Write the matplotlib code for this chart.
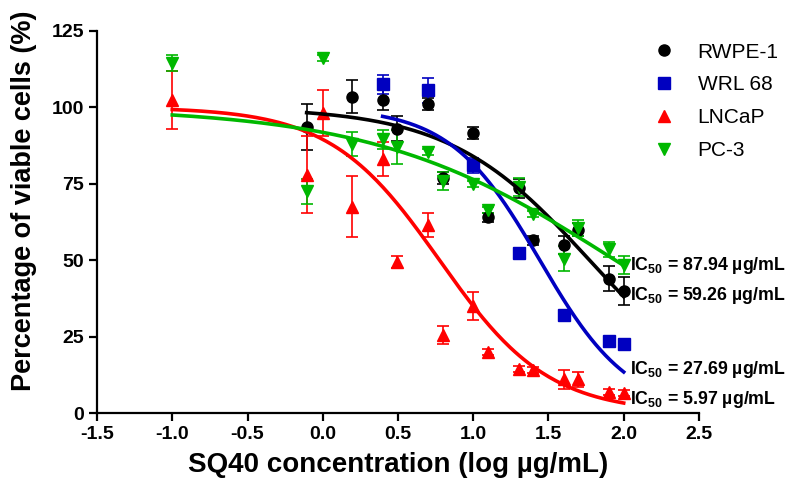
import numpy as np
import matplotlib
matplotlib.use('Agg')
import matplotlib.pyplot as plt

plt.rcParams['font.family'] = ['Liberation Sans', 'DejaVu Sans']
plt.rcParams['mathtext.fontset'] = 'custom'
plt.rcParams['mathtext.rm'] = 'Liberation Sans:bold'
plt.rcParams['mathtext.bf'] = 'Liberation Sans:bold'

# log concentrations (ug/mL)
x_all = [-1.0, -0.107, 0.0, 0.194, 0.398, 0.495, 0.699, 0.796, 1.0, 1.097,
         1.301, 1.398, 1.602, 1.699, 1.903, 2.0]

# RWPE-1
x_rwpe = [-0.107, 0.194, 0.398, 0.495, 0.699, 0.796, 1.0, 1.097, 1.301, 1.398,
          1.602, 1.699, 1.903, 2.0]
y_rwpe = [93.5, 103.5, 102.5, 93.0, 101.0, 77.0, 91.5, 64.0, 73.5, 56.5,
          55.0, 60.0, 44.0, 40.0]
e_rwpe = [7.5, 5.5, 3.5, 4.0, 2.0, 2.0, 2.0, 1.5, 3.0, 1.5, 3.0, 2.0, 4.0, 4.5]

# WRL 68
x_wrl = [0.398, 0.699, 1.0, 1.301, 1.602, 1.903, 2.0]
y_wrl = [107.5, 105.5, 81.0, 52.5, 32.0, 23.5, 22.5]
e_wrl = [3.0, 4.0, 2.5, 1.5, 1.0, 1.0, 1.5]

# LNCaP
y_lncap = [102.5, 78.0, 98.0, 67.5, 83.0, 49.5, 61.5, 25.5, 35.0, 20.0,
           14.5, 14.0, 11.0, 11.0, 7.0, 6.5]
e_lncap = [9.5, 12.5, 7.5, 10.0, 5.5, 2.0, 4.0, 3.0, 4.5, 1.0,
           1.0, 1.0, 3.0, 2.5, 1.0, 1.0]

# PC-3
y_pc3 = [114.5, 72.5, 116.0, 88.0, 89.5, 87.0, 85.5, 76.0, 75.0, 66.5,
         74.0, 65.0, 50.5, 60.5, 53.5, 48.5]
e_pc3 = [2.5, 4.0, 1.0, 4.0, 3.0, 5.5, 1.0, 3.0, 1.0, 1.0,
         3.0, 1.0, 4.0, 2.5, 2.5, 3.0]

# fitted curves: IC50 (ug/mL), hill slope, start of fitted range
ic50 = {'RWPE-1': 59.26, 'WRL 68': 27.69, 'LNCaP': 5.97, 'PC-3': 87.94}
hill = {'RWPE-1': 0.93, 'WRL 68': 1.45, 'LNCaP': 1.2, 'PC-3': 0.54}
x_start = {'RWPE-1': -0.107, 'WRL 68': 0.398, 'LNCaP': -1.0, 'PC-3': -1.0}

colors = {'RWPE-1': '#000000', 'WRL 68': '#0000C0', 'LNCaP': '#FF0000', 'PC-3': '#00B800'}
markers = {'RWPE-1': 'o', 'WRL 68': 's', 'LNCaP': '^', 'PC-3': 'v'}

series = [
    ('RWPE-1', x_rwpe, y_rwpe, e_rwpe),
    ('WRL 68', x_wrl, y_wrl, e_wrl),
    ('LNCaP', x_all, y_lncap, e_lncap),
    ('PC-3', x_all, y_pc3, e_pc3),
]

fig = plt.figure(figsize=(7.92, 4.90), dpi=100)
ax = fig.add_axes([0.1225, 0.157, 0.760, 0.780])

for name, xs, ys, es in series:
    c = colors[name]
    ax.errorbar(xs, ys, yerr=es, fmt='none', ecolor=c, elinewidth=1.2,
                capsize=4.5, capthick=1.2, zorder=2)
    ax.plot(xs, ys, linestyle='none', marker=markers[name], color=c,
            markersize=8, label=name, zorder=3)
    xf = np.linspace(x_start[name], 2.0, 200)
    yf = 100.0 / (1 + 10 ** ((xf - np.log10(ic50[name])) * hill[name]))
    ax.plot(xf, yf, color=c, linewidth=2.6, zorder=4)

ax.set_xlim(-1.5, 2.5)
ax.set_ylim(0, 125)
ax.set_xticks(np.arange(-1.5, 2.51, 0.5))
ax.set_yticks([0, 25, 50, 75, 100, 125])
ax.set_xticklabels(['%.1f' % v for v in np.arange(-1.5, 2.51, 0.5)])
for s in ['top', 'right']:
    ax.spines[s].set_visible(False)
for s in ['left', 'bottom']:
    ax.spines[s].set_linewidth(1.6)
ax.tick_params(direction='out', length=6, width=1.6, labelsize=14)
for lab in ax.get_xticklabels() + ax.get_yticklabels():
    lab.set_fontweight('bold')

ax.set_xlabel('SQ40 concentration (log µg/mL)', fontsize=20, fontweight='bold', labelpad=6)
ax.set_ylabel('Percentage of viable cells (%)', fontsize=19.5, fontweight='bold')
ax.yaxis.set_label_coords(-0.1, 0.555)

# IC50 annotations
ic_text = [('87.94', 48.1), ('59.26', 38.6), ('27.69', 14.1), ('5.97', 4.6)]
for val, yy in ic_text:
    ax.text(2.04, yy, r'IC$_{50}$ = ' + val + ' µg/mL', fontsize=12.8,
            fontweight='bold', ha='left', va='center', clip_on=False)

leg = ax.legend(loc='upper left', bbox_to_anchor=(0.925, 0.969), frameon=False,
                fontsize=15, handlelength=1.0, handletextpad=1.1,
                labelspacing=0.66, borderpad=0, borderaxespad=0)

fig.savefig('out.png', dpi=100)
